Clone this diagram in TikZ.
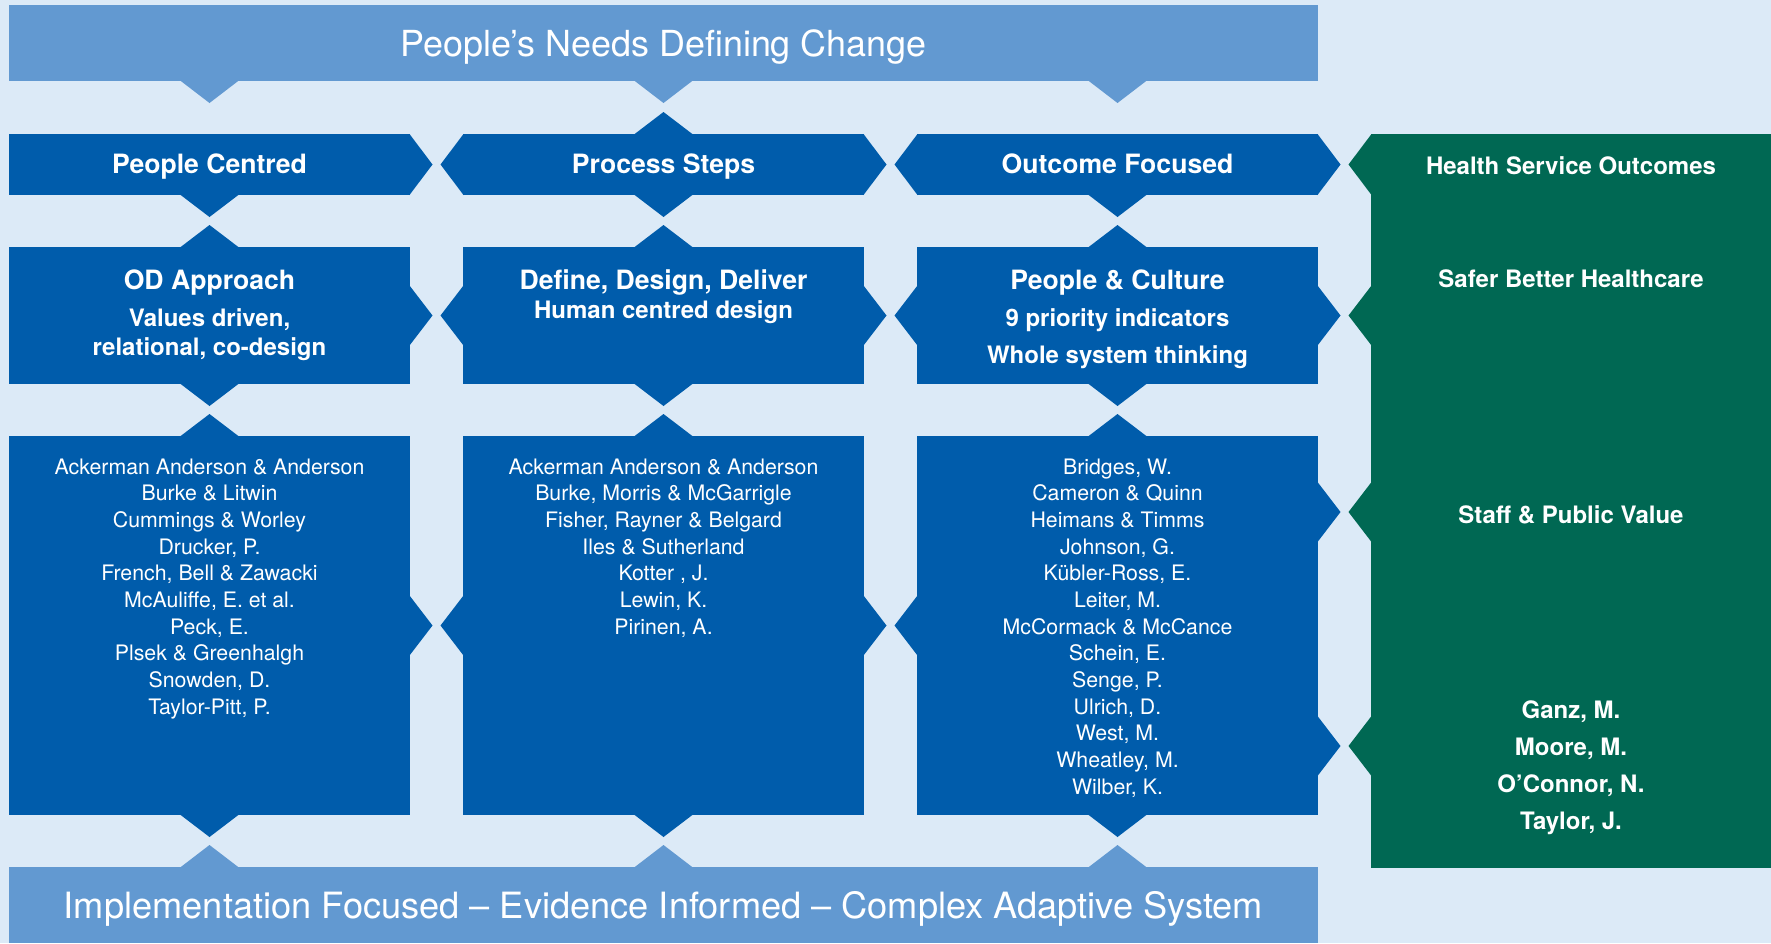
\documentclass[tikz,border=0pt]{standalone}
\usepackage{fontspec}
\setmainfont{TeX Gyre Heros}
\definecolor{bg}{HTML}{DCEAF7}
\definecolor{band}{HTML}{6299D1}
\definecolor{dblue}{HTML}{005CAB}
\definecolor{dgreen}{HTML}{006853}
\tikzset{
  txt/.style={text=white, inner sep=0pt, anchor=base},
  bannertxt/.style={txt, font=\fontsize{17.95}{21}\selectfont},
  bottxtstyle/.style={txt, font=\fontsize{18.1}{21}\selectfont},
  titletxt/.style={txt, font=\fontsize{13.3}{16}\selectfont\bfseries},
  subtxt/.style={txt, font=\fontsize{12}{14}\selectfont\bfseries},
  nametxt/.style={txt, font=\fontsize{10.65}{13.33}\selectfont},
}
\begin{document}
\begin{tikzpicture}[x=0.5pt,y=-0.5pt]
\fill[bg] (0,0) rectangle (1771,943);
\useasboundingbox (0,0) rectangle (1771,943);
% banners
\fill[band] (9,5) rectangle (1318,81);
\fill[band] (9,867) rectangle (1318,943);
\foreach \c in {209.5,663.5,1117.5} {
  \fill[band] ({\c-30},80) -- ({\c+30},80) -- (\c,103) -- cycle;
  \fill[band] ({\c-30},868) -- ({\c+30},868) -- (\c,845) -- cycle;
}
% blue boxes
\foreach \l/\r in {9/410,463/864,917/1318} {
  \fill[dblue] (\l,134) rectangle (\r,195);
  \fill[dblue] (\l,247) rectangle (\r,384);
  \fill[dblue] (\l,436) rectangle (\r,815);
}
% green box
\fill[dgreen] (1371,134) rectangle (1771,868);
% vertical triangles
\foreach \c in {209.5,663.5,1117.5} {
  \fill[dblue] ({\c-29.5},194.5) -- ({\c+29.5},194.5) -- (\c,217) -- cycle;
  \fill[dblue] ({\c-29.5},247.5) -- ({\c+29.5},247.5) -- (\c,225) -- cycle;
  \fill[dblue] ({\c-29.5},383.5) -- ({\c+29.5},383.5) -- (\c,406) -- cycle;
  \fill[dblue] ({\c-29.5},436.5) -- ({\c+29.5},436.5) -- (\c,414) -- cycle;
  \fill[dblue] ({\c-29.5},814.5) -- ({\c+29.5},814.5) -- (\c,837) -- cycle;
}
\fill[dblue] (634,134.5) -- (693,134.5) -- (663.5,112) -- cycle;
% side triangles pointing right
\foreach \x in {410,864} {
  \foreach \y/\h in {164.5/30.5,315.5/30,625.5/30} {
    \fill[dblue] ({\x-0.5},{\y-\h}) -- ({\x+22.5},\y) -- ({\x-0.5},{\y+\h}) -- cycle;
  }
}
\foreach \y/\h in {164.5/30.5,315.5/30,512/30,746/30} {
  \fill[dblue] (1317.5,{\y-\h}) -- (1340.5,\y) -- (1317.5,{\y+\h}) -- cycle;
  \fill[dgreen] (1371.5,{\y-\h}) -- (1348.5,\y) -- (1371.5,{\y+\h}) -- cycle;
}
% side triangles pointing left
\foreach \x in {463,917} {
  \foreach \y/\h in {164.5/30.5,315.5/30,625.5/30} {
    \fill[dblue] ({\x+0.5},{\y-\h}) -- ({\x-22.5},\y) -- ({\x+0.5},{\y+\h}) -- cycle;
  }
}
% banner texts
\node[bannertxt] (toptxt) at (663.5,56) {People’s Needs Defining Change};
\node[bottxtstyle] (bottxt) at (663.5,918) {Implementation Focused – Evidence Informed – Complex Adaptive System};
% row 1
\node[titletxt] (pc) at (209.5,173) {People Centred};
\node[titletxt] (ps) at (663.5,173) {Process Steps};
\node[titletxt] (of) at (1117.5,173) {Outcome Focused};
% row 2
\node[titletxt] (od) at (209.5,289) {OD Approach};
\node[subtxt] (od2) at (209.5,326) {Values driven,};
\node[subtxt] (od3) at (209.5,355.5) {relational, co-design};
\node[titletxt] (ddd) at (663.5,289) {Define, Design, Deliver};
\node[subtxt] (ddd2) at (663.5,318) {Human centred design};
\node[titletxt] (pcu) at (1117.5,289) {People \& Culture};
\node[subtxt] (pcu2) at (1117.5,326) {9 priority indicators};
\node[subtxt] (pcu3) at (1117.5,363.5) {Whole system thinking};
% row 3 names
\foreach \t [count=\i from 0] in {{Ackerman Anderson \& Anderson},{Burke \& Litwin},{Cummings \& Worley},{Drucker, P.},{French, Bell \& Zawacki},{McAuliffe, E. et al.},{Peck, E.},{Plsek \& Greenhalgh},{Snowden, D.},{Taylor-Pitt, P.}} {
  \node[nametxt] (a\i) at (209.5,{474+26.67*\i}) {\t};
}
\foreach \t [count=\i from 0] in {{Ackerman Anderson \& Anderson},{Burke, Morris \& McGarrigle},{Fisher, Rayner \& Belgard},{Iles \& Sutherland},{Kotter , J.},{Lewin, K.},{Pirinen, A.}} {
  \node[nametxt] (b\i) at (663.5,{474+26.67*\i}) {\t};
}
\foreach \t [count=\i from 0] in {{Bridges, W.},{Cameron \& Quinn},{Heimans \& Timms},{Johnson, G.},{Kübler-Ross, E.},{Leiter, M.},{McCormack \& McCance},{Schein, E.},{Senge, P.},{Ulrich, D.},{West, M.},{Wheatley, M.},{Wilber, K.}} {
  \node[nametxt] (c\i) at (1117.5,{474+26.67*\i}) {\t};
}
% green texts
\node[subtxt] (hso) at (1571,174) {Health Service Outcomes};
\node[subtxt] (sbh) at (1571,287) {Safer Better Healthcare};
\node[subtxt] (spv) at (1571,523) {Staff \& Public Value};
\foreach \t [count=\i from 0] in {{Ganz, M.},{Moore, M.},{O’Connor, N.},{Taylor, J.}} {
  \node[subtxt] (g\i) at (1571,{718.3+37*\i}) {\t};
}
\end{tikzpicture}
\end{document}
